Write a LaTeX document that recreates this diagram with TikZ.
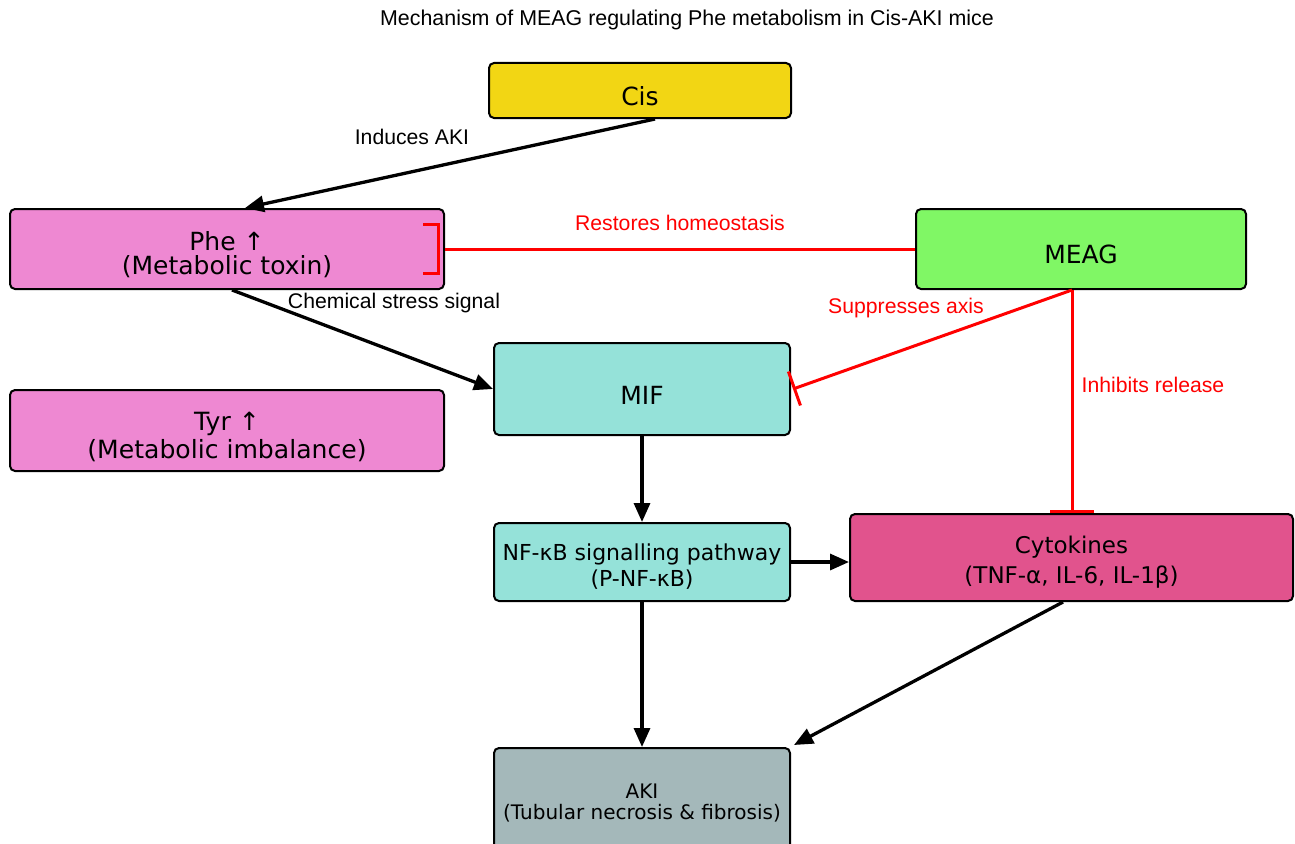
\documentclass[tikz,border=0pt]{standalone}
\usepackage{fontspec}
\setmainfont{DejaVu Sans}
\newfontfamily\labfont{Liberation Sans}
\usetikzlibrary{arrows.meta}
\definecolor{cisc}{HTML}{F2D614}
\definecolor{phec}{HTML}{EE88D2}
\definecolor{meagc}{HTML}{80F765}
\definecolor{mifc}{HTML}{95E2D9}
\definecolor{cytc}{HTML}{E1538D}
\definecolor{akic}{HTML}{A4B8BA}
\definecolor{inhred}{HTML}{FF0000}
\begin{document}
\begin{tikzpicture}[x=1pt,y=-1pt,
  box/.style={draw=black, line width=2pt, rounded corners=5pt, inner sep=0pt},
  txt/.style={align=center, inner sep=0pt, text=black},
  lbl/.style={font=\labfont\fontsize{21.2}{24}\selectfont, inner sep=0pt},
  arr/.style={line width=3.3pt, -{Triangle[length=19pt,width=16pt]}},
  inh/.style={draw=inhred, line width=3pt},
]
\clip (0,0) rectangle (1295,843);
\fill[white] (0,0) rectangle (1295,843);
\node[lbl, font=\labfont\fontsize{21.4}{24}\selectfont] (title) at (687,20) {Mechanism of MEAG regulating Phe metabolism in Cis-AKI mice};

\node[box, fill=cisc, minimum width=302pt, minimum height=55pt] (cis) at (640,90.5) {};
\node[txt, font=\fontsize{25}{24}\selectfont] (cistxt) at ([shift={(0,6)}]cis.center) {Cis};
\node[box, fill=phec, minimum width=434pt, minimum height=80pt] (phe) at (227,249) {};
\node[txt, font=\fontsize{25}{24}\selectfont] (phetxt) at ([shift={(0,6)}]phe.center) {Phe ↑\\(Metabolic toxin)};
\node[box, fill=meagc, minimum width=330pt, minimum height=80pt] (meag) at (1081,249) {};
\node[txt, font=\fontsize{25}{24}\selectfont] (meagtxt) at ([shift={(0,5)}]meag.center) {MEAG};
\node[box, fill=phec, minimum width=434pt, minimum height=81pt] (tyr) at (227,430.5) {};
\node[txt, font=\fontsize{25.1}{28}\selectfont] (tyrtxt) at ([shift={(0,6.5)}]tyr.center) {Tyr ↑\\(Metabolic imbalance)};
\node[box, fill=mifc, minimum width=296pt, minimum height=92pt] (mif) at (642,389) {};
\node[txt, font=\fontsize{25}{24}\selectfont] (miftxt) at ([shift={(0,6)}]mif.center) {MIF};
\node[box, fill=mifc, minimum width=296pt, minimum height=78pt] (nfkb) at (642,562) {};
\node[txt, font=\fontsize{22}{26}\selectfont] (nfkbtxt) at ([shift={(0,5)}]nfkb.center) {NF-κB signalling pathway\\(P-NF-κB)};
\node[box, fill=cytc, minimum width=443pt, minimum height=87pt] (cyto) at (1071.5,557.5) {};
\node[txt, font=\fontsize{23}{30}\selectfont] (cytotxt) at ([shift={(0,5)}]cyto.center) {Cytokines\\(TNF-α, IL-6, IL-1β)};
\node[box, fill=akic, minimum width=296pt, minimum height=114pt] (aki) at (642,805) {};
\node[txt, font=\fontsize{20}{20.5}\selectfont] (akitxt) at ([shift={(0,-2)}]aki.center) {AKI\\(Tubular necrosis \& fibrosis)};

% black arrows
\draw[arr] ([shift={(15,0)}]cis.south) -- ([shift={(18,0)}]phe.north);
\node[lbl] (l1) at (412,137) {Induces AKI};
\draw[arr] ([shift={(5,0)}]phe.south) -- (mif.west);
\node[lbl] (l2) at (394,303) {Chemical stress signal};
\draw[arr] (mif.south) -- (nfkb.north);
\draw[arr] (nfkb.east) -- (nfkb.east -| cyto.west);
\draw[arr] (nfkb.south) -- (aki.north);
\draw[arr] ([shift={(-8.5,0)}]cyto.south) -- ([shift={(3,-2)}]aki.north east);

% red inhibitions
\draw[inh] (meag.west) -- (phe.east);
\draw[inh] ([shift={(-22,-25)}]phe.east) -- ++(15,0) -- ++(0,49) -- ++(-15,0);
\node[lbl, text=inhred] (l3) at (680,223) {Restores homeostasis};
\draw[inh, -{Bar[width=36pt,line width=3pt]}] ([shift={(-9,0)}]meag.south) -- ([shift={(2,0)}]mif.east);
\node[lbl, text=inhred] (l4) at (906,308) {Suppresses axis};
\draw[inh, -{Bar[width=44pt,line width=3pt]}] ([shift={(-9,0)}]meag.south) -- ([shift={(-9,0)}]meag.south |- cyto.north);
\node[lbl, text=inhred] (l5) at (1153,385) {Inhibits release};
\end{tikzpicture}
\end{document}
